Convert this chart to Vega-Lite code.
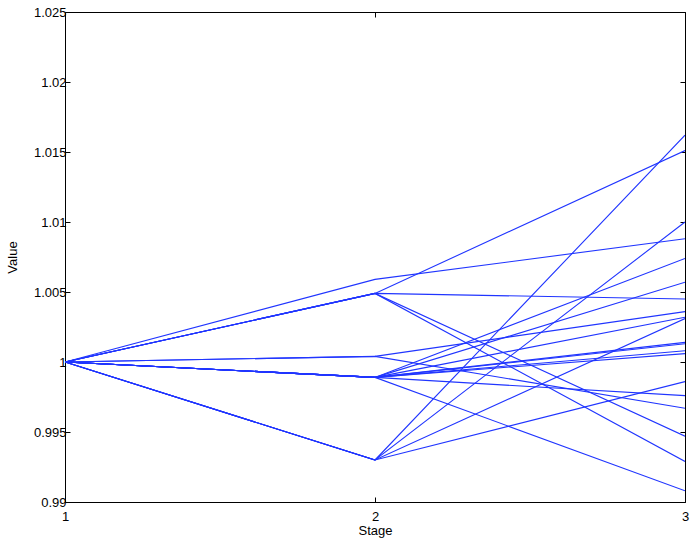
{
  "$schema": "https://vega.github.io/schema/vega-lite/v6.json",
  "width": 620,
  "height": 490,
  "autosize": {"type": "none"},
  "padding": {"left": 65, "top": 12, "right": 10, "bottom": 40},
  "background": "white",
  "config": {
    "view": {"stroke": "black", "strokeWidth": 1},
    "font": "Liberation Sans",
    "axis": {"grid": false, "domainColor": "black", "tickColor": "black", "labelColor": "black", "titleColor": "black", "labelFontSize": 13, "titleFontSize": 13, "titleFontWeight": "normal", "labelFont": "Liberation Sans", "titleFont": "Liberation Sans", "labelFlush": false, "labelOverlap": false}
  },
  "data": {"values": [
    {"s": 1, "stage": 1, "value": 1}, {"s": 1, "stage": 2, "value": 1.0059}, {"s": 1, "stage": 3, "value": 1.0088},
    {"s": 2, "stage": 1, "value": 1}, {"s": 2, "stage": 2, "value": 1.0049}, {"s": 2, "stage": 3, "value": 1.0151},
    {"s": 3, "stage": 1, "value": 1}, {"s": 3, "stage": 2, "value": 1.0049}, {"s": 3, "stage": 3, "value": 1.0045},
    {"s": 4, "stage": 1, "value": 1}, {"s": 4, "stage": 2, "value": 1.0049}, {"s": 4, "stage": 3, "value": 0.9947},
    {"s": 5, "stage": 1, "value": 1}, {"s": 5, "stage": 2, "value": 1.0049}, {"s": 5, "stage": 3, "value": 0.9929},
    {"s": 6, "stage": 1, "value": 1}, {"s": 6, "stage": 2, "value": 1.0004}, {"s": 6, "stage": 3, "value": 1.0036},
    {"s": 7, "stage": 1, "value": 1}, {"s": 7, "stage": 2, "value": 1.0004}, {"s": 7, "stage": 3, "value": 0.9967},
    {"s": 8, "stage": 1, "value": 1}, {"s": 8, "stage": 2, "value": 0.9989}, {"s": 8, "stage": 3, "value": 1.0074},
    {"s": 9, "stage": 1, "value": 1}, {"s": 9, "stage": 2, "value": 0.9989}, {"s": 9, "stage": 3, "value": 1.0057},
    {"s": 10, "stage": 1, "value": 1}, {"s": 10, "stage": 2, "value": 0.9989}, {"s": 10, "stage": 3, "value": 1.0032},
    {"s": 11, "stage": 1, "value": 1}, {"s": 11, "stage": 2, "value": 0.9989}, {"s": 11, "stage": 3, "value": 1.0014},
    {"s": 12, "stage": 1, "value": 1}, {"s": 12, "stage": 2, "value": 0.9989}, {"s": 12, "stage": 3, "value": 1.0013},
    {"s": 13, "stage": 1, "value": 1}, {"s": 13, "stage": 2, "value": 0.9989}, {"s": 13, "stage": 3, "value": 1.0008},
    {"s": 14, "stage": 1, "value": 1}, {"s": 14, "stage": 2, "value": 0.9989}, {"s": 14, "stage": 3, "value": 1.0006},
    {"s": 15, "stage": 1, "value": 1}, {"s": 15, "stage": 2, "value": 0.9989}, {"s": 15, "stage": 3, "value": 0.9976},
    {"s": 16, "stage": 1, "value": 1}, {"s": 16, "stage": 2, "value": 0.9989}, {"s": 16, "stage": 3, "value": 0.9908},
    {"s": 17, "stage": 1, "value": 1}, {"s": 17, "stage": 2, "value": 0.993}, {"s": 17, "stage": 3, "value": 1.0162},
    {"s": 18, "stage": 1, "value": 1}, {"s": 18, "stage": 2, "value": 0.993}, {"s": 18, "stage": 3, "value": 1.01},
    {"s": 19, "stage": 1, "value": 1}, {"s": 19, "stage": 2, "value": 0.993}, {"s": 19, "stage": 3, "value": 1.0031},
    {"s": 20, "stage": 1, "value": 1}, {"s": 20, "stage": 2, "value": 0.993}, {"s": 20, "stage": 3, "value": 0.9986}
  ]},
  "layer": [
    {
      "mark": {"type": "line", "color": "#2035ff", "strokeWidth": 1.1, "clip": true},
      "encoding": {
        "x": {"field": "stage", "type": "quantitative", "scale": {"domain": [1, 3], "nice": false, "zero": false},
          "axis": {"title": "Stage", "values": [1, 2, 3], "labelExpr": "datum.value == 1 ? '1' : datum.value == 2 ? '2' : '3'", "tickSize": -5, "labelPadding": 13, "titlePadding": 1, "domain": false, "labelOverlap": false, "labelBound": false, "labelFlush": false}},
        "y": {"field": "value", "type": "quantitative", "scale": {"domain": [0.99, 1.025], "nice": false, "zero": false},
          "axis": {"title": "Value", "values": [0.99, 0.995, 1, 1.005, 1.01, 1.015, 1.02, 1.025], "format": "~f", "tickSize": -5, "labelPadding": 4, "titlePadding": 14, "domain": false}},
        "detail": {"field": "s", "type": "nominal"}
      }
    },
    {
      "mark": {"type": "line", "opacity": 0},
      "encoding": {
        "x": {"field": "stage", "type": "quantitative", "axis": {"orient": "top", "values": [1, 2, 3], "labels": false, "title": null, "tickSize": -5, "domain": false}},
        "y": {"field": "value", "type": "quantitative", "axis": {"orient": "right", "values": [0.99, 0.995, 1, 1.005, 1.01, 1.015, 1.02, 1.025], "labels": false, "title": null, "tickSize": -5, "domain": false}},
        "detail": {"field": "s", "type": "nominal"}
      }
    }
  ],
  "resolve": {"axis": {"x": "independent", "y": "independent"}}
}
